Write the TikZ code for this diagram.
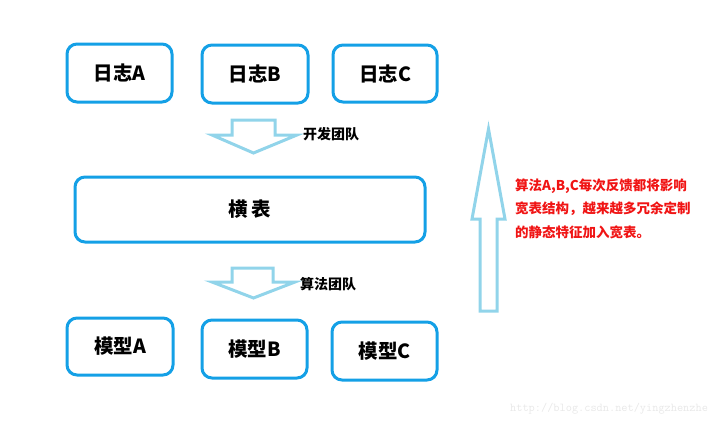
\documentclass[tikz,border=0pt]{standalone}
\usepackage{fontspec}
\setmainfont{Noto Sans CJK SC}
\newfontfamily\wmfont{Latin Modern Mono}
\definecolor{boxblue}{RGB}{20,160,230}
\definecolor{arrblue}{RGB}{145,212,234}
\definecolor{redtxt}{RGB}{240,20,20}
\definecolor{wmgray}{RGB}{232,232,232}
\begin{document}
\begin{tikzpicture}[x=1pt,y=-1pt,
  box/.style={draw=boxblue,line width=3pt,rounded corners=10pt,fill=white,
    font=\fontsize{19.5}{21}\selectfont\bfseries,inner sep=0pt},
  blockarrow/.style={draw=arrblue,line width=3pt,fill=white,line join=miter},
  lbl/.style={font=\fontsize{14}{15}\selectfont\bfseries,anchor=west,inner sep=0pt}]
\useasboundingbox (0,0) rectangle (720,423);
\node[box,minimum width=105pt,minimum height=58pt] (la) at (119.5,73) {日志A};
\node[box,minimum width=106pt,minimum height=58pt] (lb) at (255,74) {日志B};
\node[box,minimum width=104pt,minimum height=57pt] (lc) at (385,73.5) {日志C};
\node[box,minimum width=350pt,minimum height=65pt] (hb) at (250,209.5) {横\,表};
\node[box,minimum width=106pt,minimum height=57pt] (ma) at (120,346.5) {模型A};
\node[box,minimum width=105pt,minimum height=58pt] (mb) at (254.5,349) {模型B};
\node[box,minimum width=105pt,minimum height=58pt] (mc) at (384.5,351) {模型C};
% arrows
\draw[blockarrow] (232,120) -- (275,120) -- (275,135) -- (297,135) -- (253.5,153) -- (212,135) -- (232,135) -- cycle;
\node[lbl] (t1) at (303,134.5) {开发团队};
\draw[blockarrow] (232,268) -- (273,268) -- (273,282) -- (295,282) -- (253.5,298) -- (212,282) -- (232,282) -- cycle;
\node[lbl] (t2) at (300,284) {算法团队};
\draw[blockarrow] (480,311) -- (497,311) -- (497,219) -- (505,219) -- (488.5,129) -- (472,219) -- (480,219) -- cycle;
\node[anchor=north west,inner sep=0pt,text=redtxt,align=left,
  font=\fontsize{13.5}{23.5}\selectfont\bfseries] (note) at (515,178.5)
  {算法A,B,C每次反馈都将影响\\宽表结构，越来越多冗余定制\\的静态特征加入宽表。};
\node[anchor=west,inner sep=0pt,text=wmgray,font=\wmfont\fontsize{12}{14}\selectfont] (wm) at (510,409) {http://blog.csdn.net/yingzhenzhe};
\end{tikzpicture}
\end{document}
